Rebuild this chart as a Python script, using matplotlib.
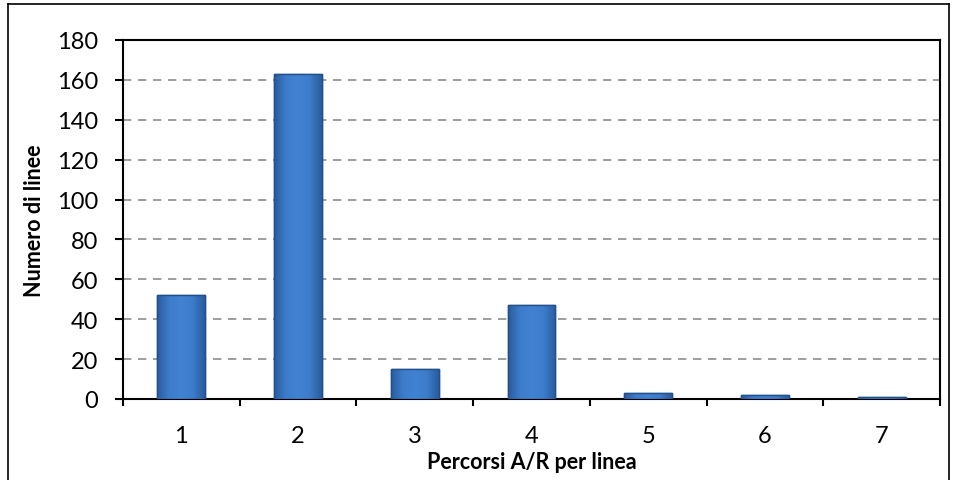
import matplotlib
matplotlib.use("Agg")
import matplotlib.pyplot as plt
import numpy as np
from matplotlib.lines import Line2D
from matplotlib.colors import LinearSegmentedColormap

categories = ["1", "2", "3", "4", "5", "6", "7"]
values = [52, 163, 15, 47, 3, 2, 1]
yticks = [0, 20, 40, 60, 80, 100, 120, 140, 160, 180]

plt.rcParams['font.family'] = ['Lato', 'DejaVu Sans']

fig = plt.figure(figsize=(9.58, 4.81), dpi=100)
ax = fig.add_axes([123/958, 1-400/481, (940-123)/958, (400-41)/481])

x = list(range(len(categories)))
bars = ax.bar(x, values, width=0.41, color="#3B78C8", edgecolor="#22508C", linewidth=1.0, zorder=3)

cmap = LinearSegmentedColormap.from_list("bev", ["#2A5C9E", "#3D7CCB", "#4282D2", "#3D7CCB", "#2A5C9E"])
grad = np.linspace(0, 1, 64).reshape(1, -1)
for b in bars:
    bx, bw, bh = b.get_x(), b.get_width(), b.get_height()
    im = ax.imshow(grad, cmap=cmap, aspect='auto', extent=[bx, bx + bw, 0, bh], zorder=3.5)
    im.set_clip_path(b)
    ax.bar(b.get_x() + bw/2, bh, width=bw, fill=False, edgecolor="#22508C", linewidth=1.0, zorder=4)

ax.set_xlim(-0.5, len(categories)-0.5)
ax.set_ylim(0, 180)
ax.set_yticks(yticks)
ax.set_yticklabels([str(v) for v in yticks], fontsize=17)
ax.set_xticks(x)
ax.set_xticklabels(categories, fontsize=17)
ax.set_xticks([i + 0.5 for i in range(-1, len(categories))], minor=True)
ax.tick_params(axis='x', which='major', length=0, pad=19)
ax.tick_params(axis='x', which='minor', length=5, width=1.5, direction='out')
ax.tick_params(axis='y', length=5.8, width=1.5, direction='out', pad=12)
ax.yaxis.grid(True, linestyle=(0, (5, 4)), color="#8C8C8C", linewidth=1.2, zorder=0)
for s in ax.spines.values():
    s.set_linewidth(1.5)
    s.set_color("black")

ax.set_xlabel("Percorsi A/R per linea", fontsize=15.5, fontweight='bold', labelpad=3)
ax.set_ylabel("Numero di linee", fontsize=15.5, fontweight='bold', labelpad=9)

# outer frame
fig.add_artist(Line2D([8/958, 949/958], [1-5/481, 1-5/481], color="black", linewidth=1.2, transform=fig.transFigure))
fig.add_artist(Line2D([8/958, 8/958], [0, 1-5/481], color="black", linewidth=1.2, transform=fig.transFigure))
fig.add_artist(Line2D([949/958, 949/958], [0, 1-5/481], color="black", linewidth=1.2, transform=fig.transFigure))

fig.savefig("out.png", dpi=100)
